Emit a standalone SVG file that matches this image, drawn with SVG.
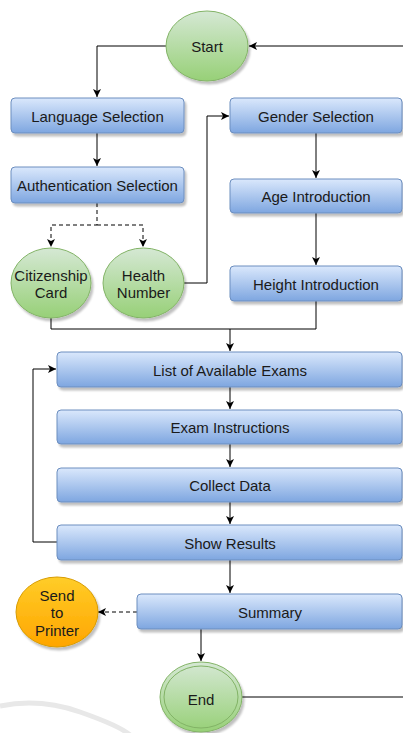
<svg xmlns="http://www.w3.org/2000/svg" width="403" height="733" viewBox="0 0 403 733">
<defs>
<linearGradient id="gBlue" x1="0" y1="0" x2="0" y2="1"><stop offset="0" stop-color="#dae8fc"/><stop offset="1" stop-color="#7ea6e0"/></linearGradient>
<linearGradient id="gGreen" x1="0" y1="0" x2="0" y2="1"><stop offset="0" stop-color="#d5e8d4"/><stop offset="1" stop-color="#97d077"/></linearGradient>
<linearGradient id="gOrange" x1="0" y1="0" x2="0" y2="1"><stop offset="0" stop-color="#ffcd28"/><stop offset="1" stop-color="#ffa500"/></linearGradient>
<filter id="sh" x="-10%" y="-10%" width="130%" height="140%">
<feGaussianBlur in="SourceAlpha" stdDeviation="1"/>
<feOffset dx="2" dy="3" result="o"/>
<feComponentTransfer><feFuncA type="linear" slope="0.25"/></feComponentTransfer>
<feMerge><feMergeNode/><feMergeNode in="SourceGraphic"/></feMerge>
</filter>
<marker id="arr" markerUnits="userSpaceOnUse" markerWidth="10" markerHeight="10" refX="8" refY="4" orient="auto" viewBox="0 0 10 10">
<path d="M0,0 L8,4 L0,8 L2,4 z" fill="#000"/>
</marker>
</defs>
<style>
.box{fill:url(#gBlue);stroke:#6c8ebf;stroke-width:1;filter:url(#sh)}
.gr{fill:url(#gGreen);stroke:#82b366;stroke-width:1;filter:url(#sh)}
.or{fill:url(#gOrange);stroke:#d79b00;stroke-width:1;filter:url(#sh)}
.t{font-family:"Liberation Sans",Arial,sans-serif;font-size:15px;fill:#1a1a1a;text-anchor:middle;dominant-baseline:central}
.c{fill:none;stroke:#000;stroke-width:1}
.a{marker-end:url(#arr)}
.d{stroke-dasharray:4 3}
</style>
<path d="M0,706 Q40,698 80,712 T130,735" fill="none" stroke="#e8e8e8" stroke-width="5"/>
<g id="connectors">
<path class="c a" d="M166,46 H97 V97"/>
<path class="c a" d="M403,46 H249"/>
<path class="c a" d="M97,133 V166"/>
<path class="c a d" d="M97,203 V225 H51 V247"/>
<path class="c a d" d="M97,225 H143 V247"/>
<path class="c a" d="M184,283 H207 V116 H229"/>
<path class="c a" d="M316,133 V178"/>
<path class="c a" d="M316,213 V265"/>
<path class="c a" d="M51,318 V329 H230 V351"/>
<path class="c" d="M316,301 V329 H230"/>
<path class="c a" d="M230,387 V409"/>
<path class="c a" d="M230,444 V467"/>
<path class="c a" d="M230,502 V524"/>
<path class="c a" d="M57,542 H33 V369 H56"/>
<path class="c a" d="M230,560 V593"/>
<path class="c a d" d="M137,612 H98"/>
<path class="c a" d="M201,629 V661"/>
<path class="c" d="M242,697 H403"/>
</g>
<g id="start"><ellipse class="gr" cx="207" cy="46" rx="41" ry="35"/><text class="t" x="207" y="46">Start</text></g>
<g id="language"><rect class="box" x="11" y="98" width="173" height="35" rx="4"/><text class="t" x="97.5" y="116">Language Selection</text></g>
<g id="gender"><rect class="box" x="230" y="98" width="172" height="35" rx="4"/><text class="t" x="316" y="116">Gender Selection</text></g>
<g id="auth"><rect class="box" x="11" y="167" width="173" height="36" rx="4"/><text class="t" x="97.5" y="185">Authentication Selection</text></g>
<g id="age"><rect class="box" x="230" y="179" width="172" height="34" rx="4"/><text class="t" x="316" y="196">Age Introduction</text></g>
<g id="citizenship"><ellipse class="gr" cx="51" cy="283" rx="40" ry="35"/><text class="t" x="51" y="275">Citizenship</text><text class="t" x="51" y="292">Card</text></g>
<g id="health"><ellipse class="gr" cx="143.5" cy="283" rx="40.5" ry="35"/><text class="t" x="143.5" y="275">Health</text><text class="t" x="143.5" y="292">Number</text></g>
<g id="height"><rect class="box" x="230" y="266" width="172" height="35" rx="4"/><text class="t" x="316" y="284">Height Introduction</text></g>
<g id="list"><rect class="box" x="57" y="352" width="345" height="35" rx="4"/><text class="t" x="230" y="370">List of Available Exams</text></g>
<g id="instructions"><rect class="box" x="57" y="410" width="345" height="34" rx="4"/><text class="t" x="230" y="427">Exam Instructions</text></g>
<g id="collect"><rect class="box" x="57" y="468" width="345" height="34" rx="4"/><text class="t" x="230" y="485">Collect Data</text></g>
<g id="show"><rect class="box" x="57" y="525" width="345" height="35" rx="4"/><text class="t" x="230" y="543">Show Results</text></g>
<g id="summary"><rect class="box" x="137" y="594" width="265" height="35" rx="4"/><text class="t" x="270" y="612">Summary</text></g>
<g id="printer"><ellipse class="or" cx="57" cy="612" rx="41" ry="35"/><text class="t" x="57" y="595">Send</text><text class="t" x="57" y="612">to</text><text class="t" x="57" y="630">Printer</text></g>
<g id="end"><ellipse class="gr" cx="201" cy="697" rx="41" ry="35"/><ellipse cx="201" cy="697" rx="37" ry="31" fill="none" stroke="#82b366" stroke-width="1"/><text class="t" x="201" y="699">End</text></g>
</svg>
